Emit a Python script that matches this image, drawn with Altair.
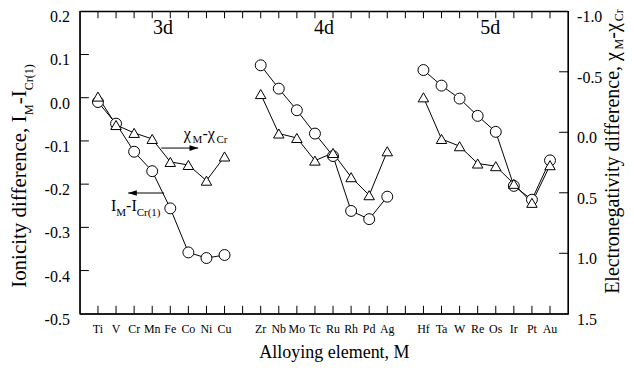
import altair as alt
import pandas as pd

# ---------------- data ----------------
elements = ["Ti", "V", "Cr", "Mn", "Fe", "Co", "Ni", "Cu",
            "Zr", "Nb", "Mo", "Tc", "Ru", "Rh", "Pd", "Ag",
            "Hf", "Ta", "W", "Re", "Os", "Ir", "Pt", "Au"]
series_group = ["3d"] * 8 + ["4d"] * 8 + ["5d"] * 8
slot = list(range(0, 8)) + list(range(9, 17)) + list(range(18, 26))

# I_M - I_Cr(1)  (left axis)
ionicity = [-0.010, -0.060, -0.125, -0.170, -0.256, -0.358, -0.371, -0.364,
            0.075, 0.021, -0.029, -0.083, -0.135, -0.262, -0.281, -0.229,
            0.064, 0.028, -0.002, -0.042, -0.079, -0.204, -0.236, -0.145]
# chi_M - chi_Cr (right axis, reversed)
electroneg = [-0.295, -0.060, 0.005, 0.055, 0.245, 0.270, 0.400, 0.200,
              -0.316, 0.010, 0.047, 0.234, 0.171, 0.371, 0.520, 0.157,
              -0.289, 0.055, 0.115, 0.258, 0.280, 0.426, 0.583, 0.272]

group_names = ["3d", "4d", "5d"]
group_name_x = [3.6, 12.5, 21.7]
group_name_y = [0.161, 0.161, 0.161]

left_ticks = [-0.5, -0.4, -0.3, -0.2, -0.1, 0.0, 0.1, 0.2]
right_ticks = [-1.0, -0.5, 0.0, 0.5, 1.0, 1.5]

FONT = "Liberation Serif"
W, H = 489, 303
XMIN, XMAX = -1.0, 26.0
YLMIN, YLMAX = -0.5, 0.2
YRMIN, YRMAX = -1.0, 1.5

df = pd.DataFrame({"el": elements, "grp": series_group, "pos": slot,
                   "ion": ionicity, "en": electroneg})

XS = alt.Scale(domain=[XMIN, XMAX], nice=False, zero=False)
YL = alt.Scale(domain=[YLMIN, YLMAX], nice=False, zero=False)
YR = alt.Scale(domain=[YRMIN, YRMAX], nice=False, zero=False, reverse=True)

PXU = W / (XMAX - XMIN)             # px per x unit
PYL = H / (YLMAX - YLMIN)           # px per left-y unit


def X(field):
    return alt.X(field, scale=XS, axis=None)


def Y_L(field):
    return alt.Y(field, scale=YL, axis=None)


def Y_R(field):
    return alt.Y(field, scale=YR, axis=None)


def fmt(v):
    return ("%.1f" % v).replace("\u2212", "-")


base = alt.Chart(df)

left_lines = base.mark_line(color="black", strokeWidth=1).encode(
    x=X("pos:Q"), y=Y_L("ion:Q"), detail="grp:N")
right_lines = base.mark_line(color="black", strokeWidth=1).encode(
    x=X("pos:Q"), y=Y_R("en:Q"), detail="grp:N")
left_pts = base.mark_point(shape="circle", filled=True, fill="white", stroke="black",
                           strokeWidth=1, size=120, opacity=1).encode(
    x=X("pos:Q"), y=Y_L("ion:Q"))
right_pts = base.mark_point(shape="triangle-up", filled=True, fill="white", stroke="black",
                            strokeWidth=1, size=110, opacity=1).encode(
    x=X("pos:Q"), y=Y_R("en:Q"))

# frame (four segments)
frame_df = pd.DataFrame({"x1": [XMIN, XMIN, XMIN, XMAX], "x2": [XMAX, XMAX, XMIN, XMAX],
                         "y1": [YLMAX, YLMIN, YLMIN, YLMIN],
                         "y2": [YLMAX, YLMIN, YLMAX, YLMAX],
                         "side": ["top", "bottom", "left", "right"]})
frame = alt.Chart(frame_df).mark_rule(color="black", strokeWidth=1.2).encode(
    x=X("x1:Q"), x2="x2:Q", y=Y_L("y1:Q"), y2="y2:Q")

# inward ticks
tick_df = pd.DataFrame({"pos": list(range(26)),
                        "t1": [YLMAX] * 26, "t2": [YLMAX - 7 / PYL] * 26,
                        "b1": [YLMIN] * 26, "b2": [YLMIN + 8 / PYL] * 26})
top_ticks = alt.Chart(tick_df).mark_rule(color="black", strokeWidth=1).encode(
    x=X("pos:Q"), y=Y_L("t1:Q"), y2="t2:Q")
bot_ticks = alt.Chart(tick_df).mark_rule(color="black", strokeWidth=1).encode(
    x=X("pos:Q"), y=Y_L("b1:Q"), y2="b2:Q")
lt_df = pd.DataFrame({"v": left_ticks[1:-1]})
lt_df["x1"] = XMIN
lt_df["x2"] = XMIN + 9 / PXU
l_ticks = alt.Chart(lt_df).mark_rule(color="black", strokeWidth=1).encode(
    y=Y_L("v:Q"), x=X("x1:Q"), x2="x2:Q")
rt_df = pd.DataFrame({"v": right_ticks[1:-1]})
rt_df["x1"] = XMAX
rt_df["x2"] = XMAX - 9 / PXU
r_ticks = alt.Chart(rt_df).mark_rule(color="black", strokeWidth=1).encode(
    y=Y_R("v:Q"), x=X("x1:Q"), x2="x2:Q")

# y tick labels as text
ll_df = pd.DataFrame({"v": left_ticks, "t": [fmt(v) for v in left_ticks],
                      "x": [XMIN] * len(left_ticks)})
left_labels = alt.Chart(ll_df).mark_text(font=FONT, fontSize=16, color="black",
                                         align="right", baseline="middle",
                                         dx=-10, dy=6).encode(
    x=X("x:Q"), y=Y_L("v:Q"), text="t:N")
rl_df = pd.DataFrame({"v": right_ticks, "t": [fmt(v) for v in right_ticks],
                      "x": [XMAX] * len(right_ticks)})
right_labels = alt.Chart(rl_df).mark_text(font=FONT, fontSize=16, color="black",
                                          align="left", baseline="middle",
                                          dx=9, dy=6).encode(
    x=X("x:Q"), y=Y_R("v:Q"), text="t:N")

# x tick labels (element names)
xl_df = pd.DataFrame({"el": elements, "pos": slot, "y": [YLMIN] * len(elements)})
x_labels = alt.Chart(xl_df).mark_text(font=FONT, fontSize=12, color="black",
                                      baseline="top", align="center", dy=10).encode(
    x=X("pos:Q"), y=Y_L("y:Q"), text="el:N")

# group names
gn_df = pd.DataFrame({"t": group_names, "x": group_name_x, "y": group_name_y})
gnames = alt.Chart(gn_df).mark_text(font=FONT, fontSize=20, color="black",
                                    baseline="middle", align="center").encode(
    x=X("x:Q"), y=Y_L("y:Q"), text="t:N")

# --------- text with subscripts ---------
CW = {'I': 333, 'o': 500, 'n': 500, 'i': 278, 'c': 444, 't': 278, 'y': 500, ' ': 250,
      'd': 500, 'f': 333, 'e': 444, 'r': 333, ',': 250, 'M': 889, '-': 333, 'C': 667,
      '(': 333, ')': 333, '1': 500, 'E': 611, 'l': 278, 'g': 500, 'a': 444, 'v': 500,
      '\u03c7': 549}


def tw(s, size):
    return sum(CW.get(c, 500) for c in s) * size / 1000.0


def runs(pieces, main_size, sub_size):
    out, off = [], 0.0
    for txt, sub in pieces:
        out.append((txt, off, sub))
        off += tw(txt, sub_size if sub else main_size)
    return out


chi_pieces = [("\u03c7", False), ("M", True), ("-\u03c7", False), ("Cr", True)]
ion_pieces = [("I", False), ("M", True), ("-I", False), ("Cr(1)", True)]

ann_rows = []
for pieces, x0, ymain, ysub in [(chi_pieces, 4.75, -0.0957, -0.1050),
                                (ion_pieces, 0.72, -0.263, -0.273)]:
    for txt, off, sub in runs(pieces, 16, 11):
        ann_rows.append({"t": txt, "x": x0 + off / PXU, "y": ysub if sub else ymain,
                         "sub": sub})
ann_df = pd.DataFrame(ann_rows)
ann_main = alt.Chart(ann_df[~ann_df["sub"]]).mark_text(
    font=FONT, fontSize=16, align="left", baseline="alphabetic", color="black").encode(
    x=X("x:Q"), y=Y_L("y:Q"), text="t:N")
ann_sub = alt.Chart(ann_df[ann_df["sub"]]).mark_text(
    font=FONT, fontSize=11, align="left", baseline="alphabetic", color="black").encode(
    x=X("x:Q"), y=Y_L("y:Q"), text="t:N")

# arrows
arr_df = pd.DataFrame({"x1": [3.5, 3.66], "x2": [5.54, 1.67], "y": [-0.1165, -0.2205],
                       "dir": ["r", "l"]})
arr_lines = alt.Chart(arr_df).mark_rule(color="black", strokeWidth=1).encode(
    x=X("x1:Q"), x2="x2:Q", y=Y_L("y:Q"))
head_r = alt.Chart(arr_df[arr_df["dir"] == "r"]).mark_point(
    shape="M-1,-0.33L0,0L-1,0.33Z", filled=True, color="black", size=300, opacity=1).encode(
    x=X("x2:Q"), y=Y_L("y:Q"))
head_l = alt.Chart(arr_df[arr_df["dir"] == "l"]).mark_point(
    shape="M1,-0.33L0,0L1,0.33Z", filled=True, color="black", size=300, opacity=1).encode(
    x=X("x2:Q"), y=Y_L("y:Q"))

# axis titles (rotated, with subscripts)
one = pd.DataFrame({"a": [0], "s": ["x"]})
title_layers = []
left_title = [("Ionicity difference, I", False), ("M", True), ("-I", False), ("Cr(1)", True)]
for txt, off, sub in runs(left_title, 21, 12):
    title_layers.append(alt.Chart(one).mark_text(
        text=txt, font=FONT, fontSize=12 if sub else 21, angle=270, align="left",
        baseline="alphabetic", color="black").encode(
        x=alt.value(-47.3 if sub else -54.3), y=alt.value(277 - off)))
right_title = [("Electronegativity difference, \u03c7", False), ("M", True),
               ("-\u03c7", False), ("Cr", True)]
for txt, off, sub in runs(right_title, 20, 12):
    title_layers.append(alt.Chart(one).mark_text(
        text=txt, font=FONT, fontSize=12 if sub else 20, angle=270, align="left",
        baseline="alphabetic", color="black").encode(
        x=alt.value(544 if sub else 540), y=alt.value(283 - off)))
title_layers.append(alt.Chart(one).mark_text(
    text="Alloying element, M", font=FONT, fontSize=18, align="center",
    baseline="alphabetic", color="black").encode(x=alt.value(255), y=alt.value(347)))

chart = alt.layer(
    left_lines, right_lines, frame, top_ticks, bot_ticks, l_ticks, r_ticks,
    arr_lines, head_r, head_l, left_pts, right_pts, left_labels, right_labels,
    x_labels, gnames, ann_main, ann_sub, *title_layers
).resolve_scale(y="independent").properties(
    width=W, height=H, padding=0
).configure_view(stroke="black", strokeWidth=1.2)

chart.save("out.html", embed_options={"renderer": "svg", "actions": False})
